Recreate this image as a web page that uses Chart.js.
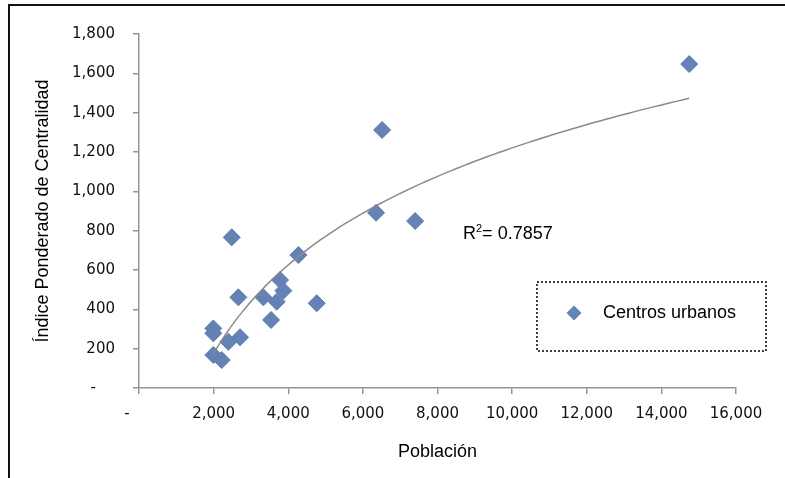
<!DOCTYPE html>
<html>
<head>
<meta charset="utf-8">
<script src="https://cdn.jsdelivr.net/npm/chart.js@4"></script>
<style>
  body { margin: 0; background: #fff; }
  canvas { display: block; }
</style>
</head>
<body>
<canvas id="scatterChart" width="785" height="478"></canvas>
<script>
// Población (eje X) e Índice Ponderado de Centralidad (eje Y) por centro urbano
const poblacion = [14745, 6515, 2485, 6354, 7400, 4271, 2663, 3333, 3780, 3691,
                   3869, 3539, 4764, 1992, 1992, 2708, 2395, 1992, 2217];
const indice    = [1647, 1312, 766, 891, 849, 676, 461, 461, 549, 439,
                   495, 346, 431, 303, 278, 258, 235, 168, 142];

const serieLabel = 'Centros urbanos';
const r2Text = '0.7857';

// Ejes
const xLimits = [0, 16000];
const xStep = 2000;
const yLimits = [0, 1800];
const yStep = 200;

// Línea de tendencia logarítmica (mínimos cuadrados sobre ln x)
function logTrend(xs, ys) {
    const lx = xs.map(v => Math.log(v));
    const mx = lx.reduce((a, b) => a + b, 0) / lx.length;
    const my = ys.reduce((a, b) => a + b, 0) / ys.length;
    let num = 0, den = 0;
    lx.forEach((v, i) => { num += (v - mx) * (ys[i] - my); den += (v - mx) * (v - mx); });
    const slope = num / den;
    const inter = my - slope * mx;
    const xMin = Math.min(...xs), xMax = Math.max(...xs);
    const pts = [];
    for (let i = 0; i <= 80; i++) {
        const x = xMin + (xMax - xMin) * i / 80;
        pts.push({ x: x, y: inter + slope * Math.log(x) });
    }
    return pts;
}

const axisColor = '#8e97a1';
const markerColor = '#6482b4';

function fmt(v, pad) {
    if (v === 0) return '-' + pad;
    return v.toLocaleString('en-US');
}

// Marco, etiqueta R² y leyenda
const extras = {
    id: 'extras',
    beforeDraw(chart) {
        const ctx = chart.ctx;
        ctx.save();
        ctx.fillStyle = '#fff';
        ctx.fillRect(0, 0, chart.width, chart.height);
        ctx.strokeStyle = '#111';
        ctx.lineWidth = 2;
        ctx.strokeRect(9, 5, 900, 600);
        ctx.restore();
    },
    afterDraw(chart) {
        const ctx = chart.ctx;
        ctx.save();
        // R²
        ctx.fillStyle = '#000';
        ctx.textBaseline = 'alphabetic';
        ctx.font = '18px "Liberation Sans", Arial, sans-serif';
        let x = 463, y = 239;
        ctx.fillText('R', x, y);
        x += ctx.measureText('R').width;
        ctx.font = '11px "Liberation Sans", Arial, sans-serif';
        ctx.fillText('2', x, y - 7);
        x += ctx.measureText('2').width;
        ctx.font = '18px "Liberation Sans", Arial, sans-serif';
        ctx.fillText('= ' + r2Text, x, y);

        // Leyenda
        ctx.strokeStyle = '#000';
        ctx.lineWidth = 1.5;
        ctx.setLineDash([2, 2]);
        ctx.strokeRect(537, 282, 229, 69);
        ctx.setLineDash([]);
        const cx = 574, cy = 313, r = 7.5;
        ctx.fillStyle = markerColor;
        ctx.beginPath();
        ctx.moveTo(cx, cy - r); ctx.lineTo(cx + r, cy);
        ctx.lineTo(cx, cy + r); ctx.lineTo(cx - r, cy);
        ctx.closePath();
        ctx.fill();
        ctx.fillStyle = '#000';
        ctx.textBaseline = 'middle';
        ctx.font = '18px "Liberation Sans", Arial, sans-serif';
        ctx.fillText(serieLabel, 603, cy);
        ctx.restore();
    }
};

const ctx = document.getElementById('scatterChart').getContext('2d');
const chart = new Chart(ctx, {
    type: 'scatter',
    data: {
        datasets: [
            {
                label: serieLabel,
                data: poblacion.map((p, i) => ({ x: p, y: indice[i] })),
                pointStyle: 'rectRot',
                pointRadius: 8.5,
                backgroundColor: markerColor,
                borderColor: '#5e7cae',
                borderWidth: 1,
                order: 2
            },
            {
                label: 'Tendencia',
                type: 'line',
                data: logTrend(poblacion, indice),
                borderColor: '#8a8a8a',
                borderWidth: 1.5,
                pointRadius: 0,
                fill: false,
                tension: 0,
                order: 1
            }
        ]
    },
    options: {
        responsive: false,
        animation: false,
        layout: { padding: { top: 34, right: 49, bottom: 0, left: 0 } },
        plugins: {
            legend: { display: false },
            tooltip: { enabled: false }
        },
        scales: {
            x: {
                type: 'linear',
                min: xLimits[0],
                max: xLimits[1],
                afterFit: s => { s.height = 90; },
                border: { display: true, color: axisColor, width: 1.5 },
                grid: { drawOnChartArea: false, drawTicks: true, tickLength: 6, color: axisColor, lineWidth: 1.5 },
                ticks: {
                    stepSize: xStep,
                    padding: 11,
                    color: '#111',
                    font: { family: '"DejaVu Sans", Verdana, sans-serif', size: 15 },
                    callback: v => fmt(v, '     ')
                },
                title: {
                    display: true,
                    text: 'Población',
                    color: '#000',
                    padding: { top: 0, bottom: 15 },
                    font: { family: '"Liberation Sans", Arial, sans-serif', size: 18 }
                }
            },
            y: {
                min: yLimits[0],
                max: yLimits[1],
                afterFit: s => { s.width = 139; },
                border: { display: true, color: axisColor, width: 1.5 },
                grid: { drawOnChartArea: false, drawTicks: true, tickLength: 6, color: axisColor, lineWidth: 1.5 },
                ticks: {
                    stepSize: yStep,
                    padding: 18,
                    color: '#111',
                    font: { family: '"DejaVu Sans", Verdana, sans-serif', size: 15 },
                    callback: v => fmt(v, '    ')
                },
                title: {
                    display: true,
                    text: 'Índice Ponderado de Centralidad',
                    color: '#000',
                    padding: { top: 32, bottom: 0 },
                    font: { family: '"Liberation Sans", Arial, sans-serif', size: 18 }
                }
            }
        }
    },
    plugins: [extras]
});
</script>
</body>
</html>
